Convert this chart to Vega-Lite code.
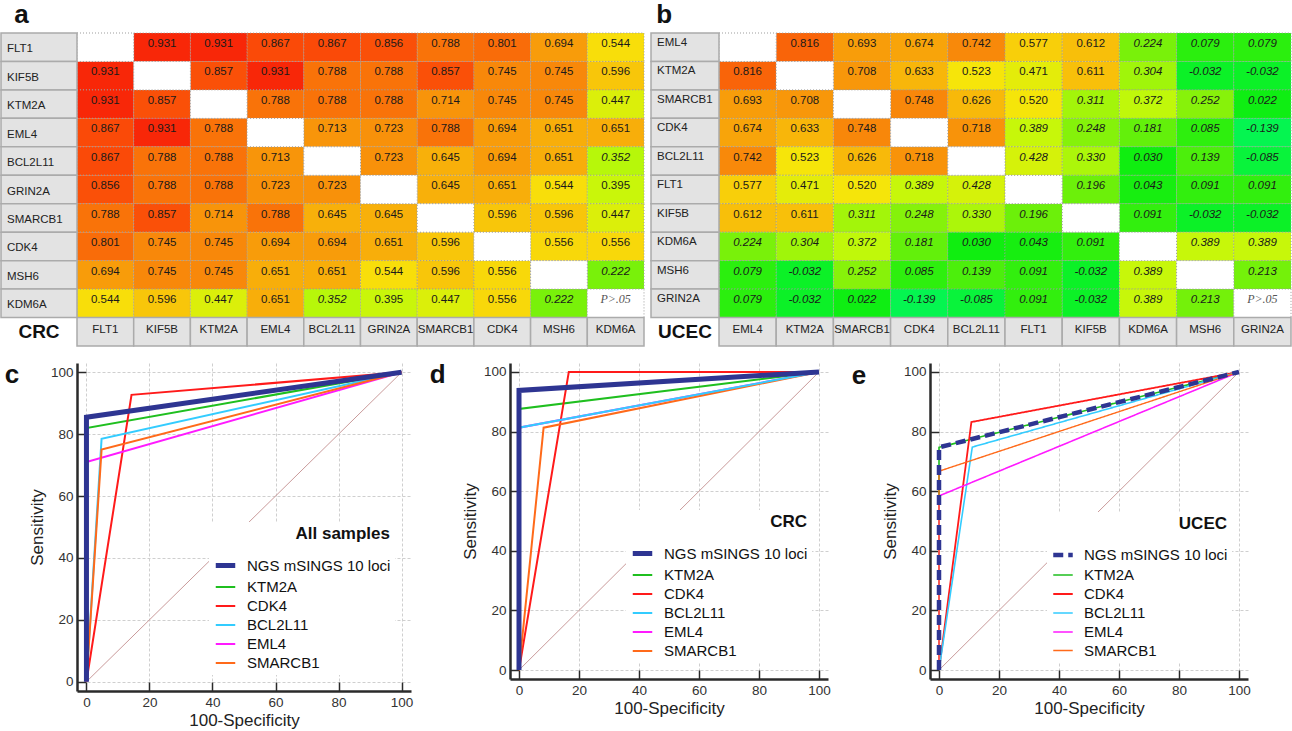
{
"$schema": "https://vega.github.io/schema/vega-lite/v6.json",
"padding": {"left": 0, "top": 2, "right": 0, "bottom": 0},
"resolve": {"scale": {"color": "independent", "strokeWidth": "independent", "strokeDash": "independent"}, "legend": {"color": "independent", "strokeWidth": "independent", "strokeDash": "independent"}},
"spacing": 14,
"datasets": {
"gA": [{"g":"FLT1"},{"g":"KIF5B"},{"g":"KTM2A"},{"g":"EML4"},{"g":"BCL2L11"},{"g":"GRIN2A"},{"g":"SMARCB1"},{"g":"CDK4"},{"g":"MSH6"},{"g":"KDM6A"}],
"gB": [{"g":"EML4"},{"g":"KTM2A"},{"g":"SMARCB1"},{"g":"CDK4"},{"g":"BCL2L11"},{"g":"FLT1"},{"g":"KIF5B"},{"g":"KDM6A"},{"g":"MSH6"},{"g":"GRIN2A"}],
"crc": [
{"r":"FLT1","c":"KIF5B","v":0.931},{"r":"FLT1","c":"KTM2A","v":0.931},{"r":"FLT1","c":"EML4","v":0.867},{"r":"FLT1","c":"BCL2L11","v":0.867},{"r":"FLT1","c":"GRIN2A","v":0.856},{"r":"FLT1","c":"SMARCB1","v":0.788},{"r":"FLT1","c":"CDK4","v":0.801},{"r":"FLT1","c":"MSH6","v":0.694},{"r":"FLT1","c":"KDM6A","v":0.544},
{"r":"KIF5B","c":"FLT1","v":0.931},{"r":"KIF5B","c":"KTM2A","v":0.857},{"r":"KIF5B","c":"EML4","v":0.931},{"r":"KIF5B","c":"BCL2L11","v":0.788},{"r":"KIF5B","c":"GRIN2A","v":0.788},{"r":"KIF5B","c":"SMARCB1","v":0.857},{"r":"KIF5B","c":"CDK4","v":0.745},{"r":"KIF5B","c":"MSH6","v":0.745},{"r":"KIF5B","c":"KDM6A","v":0.596},
{"r":"KTM2A","c":"FLT1","v":0.931},{"r":"KTM2A","c":"KIF5B","v":0.857},{"r":"KTM2A","c":"EML4","v":0.788},{"r":"KTM2A","c":"BCL2L11","v":0.788},{"r":"KTM2A","c":"GRIN2A","v":0.788},{"r":"KTM2A","c":"SMARCB1","v":0.714},{"r":"KTM2A","c":"CDK4","v":0.745},{"r":"KTM2A","c":"MSH6","v":0.745},{"r":"KTM2A","c":"KDM6A","v":0.447},
{"r":"EML4","c":"FLT1","v":0.867},{"r":"EML4","c":"KIF5B","v":0.931},{"r":"EML4","c":"KTM2A","v":0.788},{"r":"EML4","c":"BCL2L11","v":0.713},{"r":"EML4","c":"GRIN2A","v":0.723},{"r":"EML4","c":"SMARCB1","v":0.788},{"r":"EML4","c":"CDK4","v":0.694},{"r":"EML4","c":"MSH6","v":0.651},{"r":"EML4","c":"KDM6A","v":0.651},
{"r":"BCL2L11","c":"FLT1","v":0.867},{"r":"BCL2L11","c":"KIF5B","v":0.788},{"r":"BCL2L11","c":"KTM2A","v":0.788},{"r":"BCL2L11","c":"EML4","v":0.713},{"r":"BCL2L11","c":"GRIN2A","v":0.723},{"r":"BCL2L11","c":"SMARCB1","v":0.645},{"r":"BCL2L11","c":"CDK4","v":0.694},{"r":"BCL2L11","c":"MSH6","v":0.651},{"r":"BCL2L11","c":"KDM6A","v":0.352},
{"r":"GRIN2A","c":"FLT1","v":0.856},{"r":"GRIN2A","c":"KIF5B","v":0.788},{"r":"GRIN2A","c":"KTM2A","v":0.788},{"r":"GRIN2A","c":"EML4","v":0.723},{"r":"GRIN2A","c":"BCL2L11","v":0.723},{"r":"GRIN2A","c":"SMARCB1","v":0.645},{"r":"GRIN2A","c":"CDK4","v":0.651},{"r":"GRIN2A","c":"MSH6","v":0.544},{"r":"GRIN2A","c":"KDM6A","v":0.395},
{"r":"SMARCB1","c":"FLT1","v":0.788},{"r":"SMARCB1","c":"KIF5B","v":0.857},{"r":"SMARCB1","c":"KTM2A","v":0.714},{"r":"SMARCB1","c":"EML4","v":0.788},{"r":"SMARCB1","c":"BCL2L11","v":0.645},{"r":"SMARCB1","c":"GRIN2A","v":0.645},{"r":"SMARCB1","c":"CDK4","v":0.596},{"r":"SMARCB1","c":"MSH6","v":0.596},{"r":"SMARCB1","c":"KDM6A","v":0.447},
{"r":"CDK4","c":"FLT1","v":0.801},{"r":"CDK4","c":"KIF5B","v":0.745},{"r":"CDK4","c":"KTM2A","v":0.745},{"r":"CDK4","c":"EML4","v":0.694},{"r":"CDK4","c":"BCL2L11","v":0.694},{"r":"CDK4","c":"GRIN2A","v":0.651},{"r":"CDK4","c":"SMARCB1","v":0.596},{"r":"CDK4","c":"MSH6","v":0.556},{"r":"CDK4","c":"KDM6A","v":0.556},
{"r":"MSH6","c":"FLT1","v":0.694},{"r":"MSH6","c":"KIF5B","v":0.745},{"r":"MSH6","c":"KTM2A","v":0.745},{"r":"MSH6","c":"EML4","v":0.651},{"r":"MSH6","c":"BCL2L11","v":0.651},{"r":"MSH6","c":"GRIN2A","v":0.544},{"r":"MSH6","c":"SMARCB1","v":0.596},{"r":"MSH6","c":"CDK4","v":0.556},{"r":"MSH6","c":"KDM6A","v":0.222},
{"r":"KDM6A","c":"FLT1","v":0.544},{"r":"KDM6A","c":"KIF5B","v":0.596},{"r":"KDM6A","c":"KTM2A","v":0.447},{"r":"KDM6A","c":"EML4","v":0.651},{"r":"KDM6A","c":"BCL2L11","v":0.352},{"r":"KDM6A","c":"GRIN2A","v":0.395},{"r":"KDM6A","c":"SMARCB1","v":0.447},{"r":"KDM6A","c":"CDK4","v":0.556},{"r":"KDM6A","c":"MSH6","v":0.222}
],
"ucec": [
{"r":"EML4","c":"KTM2A","v":0.816},{"r":"EML4","c":"SMARCB1","v":0.693},{"r":"EML4","c":"CDK4","v":0.674},{"r":"EML4","c":"BCL2L11","v":0.742},{"r":"EML4","c":"FLT1","v":0.577},{"r":"EML4","c":"KIF5B","v":0.612},{"r":"EML4","c":"KDM6A","v":0.224},{"r":"EML4","c":"MSH6","v":0.079},{"r":"EML4","c":"GRIN2A","v":0.079},
{"r":"KTM2A","c":"EML4","v":0.816},{"r":"KTM2A","c":"SMARCB1","v":0.708},{"r":"KTM2A","c":"CDK4","v":0.633},{"r":"KTM2A","c":"BCL2L11","v":0.523},{"r":"KTM2A","c":"FLT1","v":0.471},{"r":"KTM2A","c":"KIF5B","v":0.611},{"r":"KTM2A","c":"KDM6A","v":0.304},{"r":"KTM2A","c":"MSH6","v":-0.032},{"r":"KTM2A","c":"GRIN2A","v":-0.032},
{"r":"SMARCB1","c":"EML4","v":0.693},{"r":"SMARCB1","c":"KTM2A","v":0.708},{"r":"SMARCB1","c":"CDK4","v":0.748},{"r":"SMARCB1","c":"BCL2L11","v":0.626},{"r":"SMARCB1","c":"FLT1","v":0.520},{"r":"SMARCB1","c":"KIF5B","v":0.311},{"r":"SMARCB1","c":"KDM6A","v":0.372},{"r":"SMARCB1","c":"MSH6","v":0.252},{"r":"SMARCB1","c":"GRIN2A","v":0.022},
{"r":"CDK4","c":"EML4","v":0.674},{"r":"CDK4","c":"KTM2A","v":0.633},{"r":"CDK4","c":"SMARCB1","v":0.748},{"r":"CDK4","c":"BCL2L11","v":0.718},{"r":"CDK4","c":"FLT1","v":0.389},{"r":"CDK4","c":"KIF5B","v":0.248},{"r":"CDK4","c":"KDM6A","v":0.181},{"r":"CDK4","c":"MSH6","v":0.085},{"r":"CDK4","c":"GRIN2A","v":-0.139},
{"r":"BCL2L11","c":"EML4","v":0.742},{"r":"BCL2L11","c":"KTM2A","v":0.523},{"r":"BCL2L11","c":"SMARCB1","v":0.626},{"r":"BCL2L11","c":"CDK4","v":0.718},{"r":"BCL2L11","c":"FLT1","v":0.428},{"r":"BCL2L11","c":"KIF5B","v":0.330},{"r":"BCL2L11","c":"KDM6A","v":0.030},{"r":"BCL2L11","c":"MSH6","v":0.139},{"r":"BCL2L11","c":"GRIN2A","v":-0.085},
{"r":"FLT1","c":"EML4","v":0.577},{"r":"FLT1","c":"KTM2A","v":0.471},{"r":"FLT1","c":"SMARCB1","v":0.520},{"r":"FLT1","c":"CDK4","v":0.389},{"r":"FLT1","c":"BCL2L11","v":0.428},{"r":"FLT1","c":"KIF5B","v":0.196},{"r":"FLT1","c":"KDM6A","v":0.043},{"r":"FLT1","c":"MSH6","v":0.091},{"r":"FLT1","c":"GRIN2A","v":0.091},
{"r":"KIF5B","c":"EML4","v":0.612},{"r":"KIF5B","c":"KTM2A","v":0.611},{"r":"KIF5B","c":"SMARCB1","v":0.311},{"r":"KIF5B","c":"CDK4","v":0.248},{"r":"KIF5B","c":"BCL2L11","v":0.330},{"r":"KIF5B","c":"FLT1","v":0.196},{"r":"KIF5B","c":"KDM6A","v":0.091},{"r":"KIF5B","c":"MSH6","v":-0.032},{"r":"KIF5B","c":"GRIN2A","v":-0.032},
{"r":"KDM6A","c":"EML4","v":0.224},{"r":"KDM6A","c":"KTM2A","v":0.304},{"r":"KDM6A","c":"SMARCB1","v":0.372},{"r":"KDM6A","c":"CDK4","v":0.181},{"r":"KDM6A","c":"BCL2L11","v":0.030},{"r":"KDM6A","c":"FLT1","v":0.043},{"r":"KDM6A","c":"KIF5B","v":0.091},{"r":"KDM6A","c":"MSH6","v":0.389},{"r":"KDM6A","c":"GRIN2A","v":0.389},
{"r":"MSH6","c":"EML4","v":0.079},{"r":"MSH6","c":"KTM2A","v":-0.032},{"r":"MSH6","c":"SMARCB1","v":0.252},{"r":"MSH6","c":"CDK4","v":0.085},{"r":"MSH6","c":"BCL2L11","v":0.139},{"r":"MSH6","c":"FLT1","v":0.091},{"r":"MSH6","c":"KIF5B","v":-0.032},{"r":"MSH6","c":"KDM6A","v":0.389},{"r":"MSH6","c":"GRIN2A","v":0.213},
{"r":"GRIN2A","c":"EML4","v":0.079},{"r":"GRIN2A","c":"KTM2A","v":-0.032},{"r":"GRIN2A","c":"SMARCB1","v":0.022},{"r":"GRIN2A","c":"CDK4","v":-0.139},{"r":"GRIN2A","c":"BCL2L11","v":-0.085},{"r":"GRIN2A","c":"FLT1","v":0.091},{"r":"GRIN2A","c":"KIF5B","v":-0.032},{"r":"GRIN2A","c":"KDM6A","v":0.389},{"r":"GRIN2A","c":"MSH6","v":0.213}
],
"diag": [{"x":0,"y":0},{"x":100,"y":100}],
"rocC": [
{"s":"KTM2A","i":0,"x":0,"y":0},{"s":"KTM2A","i":1,"x":0,"y":82},{"s":"KTM2A","i":2,"x":100,"y":100},
{"s":"CDK4","i":0,"x":0,"y":0},{"s":"CDK4","i":1,"x":14.3,"y":92.7},{"s":"CDK4","i":2,"x":100,"y":100},
{"s":"BCL2L11","i":0,"x":0,"y":0},{"s":"BCL2L11","i":1,"x":4.8,"y":78.5},{"s":"BCL2L11","i":2,"x":100,"y":100},
{"s":"EML4","i":0,"x":0,"y":0},{"s":"EML4","i":1,"x":0,"y":71},{"s":"EML4","i":2,"x":100,"y":100},
{"s":"SMARCB1","i":0,"x":0,"y":0},{"s":"SMARCB1","i":1,"x":4.8,"y":75},{"s":"SMARCB1","i":2,"x":100,"y":100},
{"s":"NGS mSINGS 10 loci","i":0,"x":0,"y":0},{"s":"NGS mSINGS 10 loci","i":1,"x":0,"y":85.5},{"s":"NGS mSINGS 10 loci","i":2,"x":100,"y":100}
],
"rocD": [
{"s":"KTM2A","i":0,"x":0,"y":0},{"s":"KTM2A","i":1,"x":0,"y":87.6},{"s":"KTM2A","i":2,"x":100,"y":100},
{"s":"CDK4","i":0,"x":0,"y":0},{"s":"CDK4","i":1,"x":16.6,"y":100},{"s":"CDK4","i":2,"x":100,"y":100},
{"s":"EML4","i":0,"x":0,"y":0},{"s":"EML4","i":1,"x":0,"y":81.3},{"s":"EML4","i":2,"x":100,"y":100},
{"s":"SMARCB1","i":0,"x":0,"y":0},{"s":"SMARCB1","i":1,"x":8.2,"y":81.3},{"s":"SMARCB1","i":2,"x":100,"y":100},
{"s":"BCL2L11","i":0,"x":0,"y":0},{"s":"BCL2L11","i":1,"x":0,"y":81.3},{"s":"BCL2L11","i":2,"x":100,"y":100},
{"s":"NGS mSINGS 10 loci","i":0,"x":0,"y":0},{"s":"NGS mSINGS 10 loci","i":1,"x":0,"y":93.8},{"s":"NGS mSINGS 10 loci","i":2,"x":100,"y":100}
],
"rocE": [
{"s":"KTM2A","i":0,"x":0,"y":0},{"s":"KTM2A","i":1,"x":0,"y":74.7},{"s":"KTM2A","i":2,"x":100,"y":100},
{"s":"CDK4","i":0,"x":0,"y":0},{"s":"CDK4","i":1,"x":10.8,"y":83.2},{"s":"CDK4","i":2,"x":100,"y":100},
{"s":"BCL2L11","i":0,"x":0,"y":0},{"s":"BCL2L11","i":1,"x":11.1,"y":74.8},{"s":"BCL2L11","i":2,"x":100,"y":100},
{"s":"EML4","i":0,"x":0,"y":0},{"s":"EML4","i":1,"x":0,"y":58.4},{"s":"EML4","i":2,"x":100,"y":100},
{"s":"SMARCB1","i":0,"x":0,"y":0},{"s":"SMARCB1","i":1,"x":0,"y":66.7},{"s":"SMARCB1","i":2,"x":100,"y":100},
{"s":"NGS mSINGS 10 loci","i":0,"x":0,"y":0},{"s":"NGS mSINGS 10 loci","i":1,"x":0,"y":74.7},{"s":"NGS mSINGS 10 loci","i":2,"x":100,"y":100}
]
},
"vconcat": [
{
"spacing": 5,
"resolve": {"scale": {"color": "independent"}, "legend": {"color": "independent"}},
"hconcat": [
{
"width": 567, "height": 313,
"title": {"text": "a", "anchor": "start", "fontSize": 26, "fontWeight": "bold", "dx": 14, "offset": 4, "color": "#111"},
"resolve": {"scale": {"x": "independent"}},
"layer": [
{
"layer": [
{"data": {"name": "crc"},
 "mark": {"type": "rect", "stroke": "#9d9d9d", "strokeDash": [1, 2], "strokeWidth": 1},
 "encoding": {
  "x": {"field": "c", "type": "nominal", "scale": {"domain": ["FLT1","KIF5B","KTM2A","EML4","BCL2L11","GRIN2A","SMARCB1","CDK4","MSH6","KDM6A"], "paddingInner": 0, "paddingOuter": 0}, "axis": null},
  "y": {"field": "r", "type": "nominal", "scale": {"domain": ["FLT1","KIF5B","KTM2A","EML4","BCL2L11","GRIN2A","SMARCB1","CDK4","MSH6","KDM6A","ftr"], "paddingInner": 0, "paddingOuter": 0}, "axis": null},
  "color": {"field": "v", "type": "quantitative", "legend": null, "scale": {"domain": [-0.14, 0.03, 0.2, 0.38, 0.53, 0.65, 0.75, 0.86, 0.93], "range": ["#05f550", "#10ee10", "#6ef00a", "#c4f80a", "#f8e40a", "#f8ae0a", "#f8860a", "#fa4e08", "#f82808"], "interpolate": "rgb"}}}},
{"data": {"name": "gA"},
 "mark": {"type": "rect", "fill": "white", "stroke": "#9d9d9d", "strokeDash": [1, 2], "strokeWidth": 1},
 "encoding": {"x": {"field": "g", "type": "nominal"}, "y": {"field": "g", "type": "nominal"}}},
{"data": {"name": "gA"},
 "mark": {"type": "rect", "fill": "#e3e3e3", "stroke": "#ababab", "strokeWidth": 1.5},
 "encoding": {"x": {"field": "g", "type": "nominal"}, "y": {"datum": "ftr", "type": "nominal"}}},
{"data": {"name": "gA"},
 "mark": {"type": "text", "baseline": "top", "dy": 6, "fontSize": 11.5, "fill": "#222"},
 "encoding": {"x": {"field": "g", "type": "nominal"}, "y": {"datum": "ftr", "type": "nominal", "bandPosition": 0}, "text": {"field": "g"}}},
{"data": {"name": "crc"}, "transform": [{"filter": "datum.v >= 0.36"}],
 "mark": {"type": "text", "baseline": "top", "dy": 5, "fontSize": 11.5, "fill": "#1a1a1a", "text": {"expr": "replace(format(datum.v, '.3f'), '\u2212', '-')"}},
 "encoding": {"x": {"field": "c", "type": "nominal"}, "y": {"field": "r", "type": "nominal", "bandPosition": 0}}},
{"data": {"name": "crc"}, "transform": [{"filter": "datum.v < 0.36"}],
 "mark": {"type": "text", "baseline": "top", "dy": 5, "fontSize": 11.5, "fontStyle": "italic", "fill": "#1a1a1a", "text": {"expr": "replace(format(datum.v, '.3f'), '\u2212', '-')"}},
 "encoding": {"x": {"field": "c", "type": "nominal"}, "y": {"field": "r", "type": "nominal", "bandPosition": 0}}},
{"data": {"name": "gA"}, "transform": [{"filter": "datum.g === 'KDM6A'"}],
 "mark": {"type": "text", "baseline": "top", "dy": 5, "font": "Liberation Serif", "fontStyle": "italic", "fontSize": 12, "fill": "#555", "text": "P>.05"},
 "encoding": {"x": {"field": "g", "type": "nominal"}, "y": {"field": "g", "type": "nominal", "bandPosition": 0}}}
]
},
{
"data": {"name": "gA"},
"layer": [
{"mark": {"type": "rect", "fill": "#e3e3e3", "stroke": "#ababab", "strokeWidth": 1.5},
 "encoding": {
  "x": {"datum": "lab", "type": "nominal", "scale": {"domain": ["lab"], "range": [-76, 0], "paddingInner": 0, "paddingOuter": 0}, "axis": null},
  "y": {"field": "g", "type": "nominal"}}},
{"mark": {"type": "text", "align": "left", "baseline": "middle", "dx": 6, "dy": 2, "fontSize": 11.5, "fill": "#222"},
 "encoding": {
  "x": {"datum": "lab", "type": "nominal", "bandPosition": 0},
  "y": {"field": "g", "type": "nominal"},
  "text": {"field": "g"}}},
{"transform": [{"filter": "datum.g === 'FLT1'"}],
 "mark": {"type": "text", "fontSize": 19, "fontWeight": "bold", "fill": "#111", "text": "CRC"},
 "encoding": {
  "x": {"datum": "lab", "type": "nominal"},
  "y": {"datum": "ftr", "type": "nominal"}}}
]
}
]
},
{
"width": 572, "height": 313,
"title": {"text": "b", "anchor": "start", "fontSize": 26, "fontWeight": "bold", "dx": 6, "offset": 4, "color": "#111"},
"resolve": {"scale": {"x": "independent"}},
"layer": [
{
"layer": [
{"data": {"name": "ucec"},
 "mark": {"type": "rect", "stroke": "#9d9d9d", "strokeDash": [1, 2], "strokeWidth": 1},
 "encoding": {
  "x": {"field": "c", "type": "nominal", "scale": {"domain": ["EML4","KTM2A","SMARCB1","CDK4","BCL2L11","FLT1","KIF5B","KDM6A","MSH6","GRIN2A"], "paddingInner": 0, "paddingOuter": 0}, "axis": null},
  "y": {"field": "r", "type": "nominal", "scale": {"domain": ["EML4","KTM2A","SMARCB1","CDK4","BCL2L11","FLT1","KIF5B","KDM6A","MSH6","GRIN2A","ftr"], "paddingInner": 0, "paddingOuter": 0}, "axis": null},
  "color": {"field": "v", "type": "quantitative", "legend": null, "scale": {"domain": [-0.14, 0.03, 0.2, 0.38, 0.53, 0.65, 0.75, 0.86, 0.93], "range": ["#05f550", "#10ee10", "#6ef00a", "#c4f80a", "#f8e40a", "#f8ae0a", "#f8860a", "#fa4e08", "#f82808"], "interpolate": "rgb"}}}},
{"data": {"name": "gB"},
 "mark": {"type": "rect", "fill": "white", "stroke": "#9d9d9d", "strokeDash": [1, 2], "strokeWidth": 1},
 "encoding": {"x": {"field": "g", "type": "nominal"}, "y": {"field": "g", "type": "nominal"}}},
{"data": {"name": "gB"},
 "mark": {"type": "rect", "fill": "#e3e3e3", "stroke": "#ababab", "strokeWidth": 1.5},
 "encoding": {"x": {"field": "g", "type": "nominal"}, "y": {"datum": "ftr", "type": "nominal"}}},
{"data": {"name": "gB"},
 "mark": {"type": "text", "baseline": "top", "dy": 6, "fontSize": 11.5, "fill": "#222"},
 "encoding": {"x": {"field": "g", "type": "nominal"}, "y": {"datum": "ftr", "type": "nominal", "bandPosition": 0}, "text": {"field": "g"}}},
{"data": {"name": "ucec"}, "transform": [{"filter": "datum.v >= 0.45"}],
 "mark": {"type": "text", "baseline": "top", "dy": 5, "fontSize": 11.5, "fill": "#1a1a1a", "text": {"expr": "replace(format(datum.v, '.3f'), '\u2212', '-')"}},
 "encoding": {"x": {"field": "c", "type": "nominal"}, "y": {"field": "r", "type": "nominal", "bandPosition": 0}}},
{"data": {"name": "ucec"}, "transform": [{"filter": "datum.v < 0.45"}],
 "mark": {"type": "text", "baseline": "top", "dy": 5, "fontSize": 11.5, "fontStyle": "italic", "fill": "#1a1a1a", "text": {"expr": "replace(format(datum.v, '.3f'), '\u2212', '-')"}},
 "encoding": {"x": {"field": "c", "type": "nominal"}, "y": {"field": "r", "type": "nominal", "bandPosition": 0}}},
{"data": {"name": "gB"}, "transform": [{"filter": "datum.g === 'GRIN2A'"}],
 "mark": {"type": "text", "baseline": "top", "dy": 5, "font": "Liberation Serif", "fontStyle": "italic", "fontSize": 12, "fill": "#555", "text": "P>.05"},
 "encoding": {"x": {"field": "g", "type": "nominal"}, "y": {"field": "g", "type": "nominal", "bandPosition": 0}}}
]
},
{
"data": {"name": "gB"},
"layer": [
{"mark": {"type": "rect", "fill": "#e3e3e3", "stroke": "#ababab", "strokeWidth": 1.5},
 "encoding": {
  "x": {"datum": "lab", "type": "nominal", "scale": {"domain": ["lab"], "range": [-68, 0], "paddingInner": 0, "paddingOuter": 0}, "axis": null},
  "y": {"field": "g", "type": "nominal"}}},
{"mark": {"type": "text", "align": "left", "baseline": "top", "dx": 6, "dy": 4, "fontSize": 11.5, "fill": "#222"},
 "encoding": {
  "x": {"datum": "lab", "type": "nominal", "bandPosition": 0},
  "y": {"field": "g", "type": "nominal", "bandPosition": 0},
  "text": {"field": "g"}}},
{"transform": [{"filter": "datum.g === 'EML4'"}],
 "mark": {"type": "text", "fontSize": 19, "fontWeight": "bold", "fill": "#111", "text": "UCEC"},
 "encoding": {
  "x": {"datum": "lab", "type": "nominal"},
  "y": {"datum": "ftr", "type": "nominal"}}}
]
}
]
}
]
},
{
"spacing": 16,
"resolve": {"scale": {"color": "independent", "strokeWidth": "independent", "strokeDash": "independent"}, "legend": {"color": "independent", "strokeWidth": "independent", "strokeDash": "independent"}},
"hconcat": [
{
"width": 334, "height": 328,
"title": {"text": "c", "orient": "left", "anchor": "end", "angle": 0, "fontSize": 26, "fontWeight": "bold", "offset": 2, "baseline": "top", "align": "center", "color": "#111"},
"layer": [
{"data": {"name": "diag"},
 "mark": {"type": "line", "stroke": "#c99a9a", "strokeWidth": 1},
 "encoding": {
  "x": {"field": "x", "type": "quantitative", "scale": {"domain": [-3, 103], "nice": false, "zero": false},
   "axis": {"title": "100-Specificity", "values": [0,5,10,15,20,25,30,35,40,45,50,55,60,65,70,75,80,85,90,95,100], "labelExpr": "datum.value % 20 === 0 ? datum.label : ''", "tickSize": {"condition": {"test": "datum.value % 20 === 0", "value": -9}, "value": -5}, "gridOpacity": {"condition": {"test": "datum.value % 20 === 0", "value": 1}, "value": 0}, "labelPadding": 13}},
  "y": {"field": "y", "type": "quantitative", "scale": {"domain": [-3, 103], "nice": false, "zero": false},
   "axis": {"title": "Sensitivity", "values": [0,5,10,15,20,25,30,35,40,45,50,55,60,65,70,75,80,85,90,95,100], "labelExpr": "datum.value % 20 === 0 ? datum.label : ''", "tickSize": {"condition": {"test": "datum.value % 20 === 0", "value": -9}, "value": -5}, "gridOpacity": {"condition": {"test": "datum.value % 20 === 0", "value": 1}, "value": 0}, "labelPadding": 13}}}},
{"data": {"name": "rocC"},
 "mark": {"type": "line"},
 "encoding": {
  "x": {"field": "x", "type": "quantitative"},
  "y": {"field": "y", "type": "quantitative"},
  "order": {"field": "i"},
  "color": {"field": "s", "type": "nominal", "scale": {"domain": ["NGS mSINGS 10 loci","KTM2A","CDK4","BCL2L11","EML4","SMARCB1"], "range": ["#2e3592","#1fbf1f","#ff1a1a","#33ccff","#ff1aff","#ff6a1a"]}, "legend": {"title": "All samples"}},
  "strokeWidth": {"field": "s", "type": "nominal", "scale": {"type": "ordinal", "domain": ["NGS mSINGS 10 loci","KTM2A","CDK4","BCL2L11","EML4","SMARCB1"], "range": [5, 2, 2, 2, 2, 2]}, "legend": {"title": "All samples"}}}}
]
},
{
"spacing": 20,
"resolve": {"scale": {"color": "independent", "strokeWidth": "independent", "strokeDash": "independent"}, "legend": {"color": "independent", "strokeWidth": "independent", "strokeDash": "independent"}},
"hconcat": [
{
"width": 318, "height": 316,
"title": {"text": "d", "orient": "left", "anchor": "end", "angle": 0, "fontSize": 26, "fontWeight": "bold", "offset": 8, "baseline": "top", "align": "center", "color": "#111"},
"layer": [
{"data": {"name": "diag"},
 "mark": {"type": "line", "stroke": "#c99a9a", "strokeWidth": 1},
 "encoding": {
  "x": {"field": "x", "type": "quantitative", "scale": {"domain": [-3, 103], "nice": false, "zero": false},
   "axis": {"title": "100-Specificity", "values": [0,5,10,15,20,25,30,35,40,45,50,55,60,65,70,75,80,85,90,95,100], "labelExpr": "datum.value % 20 === 0 ? datum.label : ''", "tickSize": {"condition": {"test": "datum.value % 20 === 0", "value": -9}, "value": -5}, "gridOpacity": {"condition": {"test": "datum.value % 20 === 0", "value": 1}, "value": 0}, "labelPadding": 13}},
  "y": {"field": "y", "type": "quantitative", "scale": {"domain": [-3, 103], "nice": false, "zero": false},
   "axis": {"title": "Sensitivity", "values": [0,5,10,15,20,25,30,35,40,45,50,55,60,65,70,75,80,85,90,95,100], "labelExpr": "datum.value % 20 === 0 ? datum.label : ''", "tickSize": {"condition": {"test": "datum.value % 20 === 0", "value": -9}, "value": -5}, "gridOpacity": {"condition": {"test": "datum.value % 20 === 0", "value": 1}, "value": 0}, "labelPadding": 13}}}},
{"data": {"name": "rocD"},
 "mark": {"type": "line"},
 "encoding": {
  "x": {"field": "x", "type": "quantitative"},
  "y": {"field": "y", "type": "quantitative"},
  "order": {"field": "i"},
  "color": {"field": "s", "type": "nominal", "scale": {"domain": ["NGS mSINGS 10 loci","KTM2A","CDK4","BCL2L11","EML4","SMARCB1"], "range": ["#2e3592","#1fbf1f","#ff1a1a","#33ccff","#ff1aff","#ff6a1a"]}, "legend": {"title": "CRC"}},
  "strokeWidth": {"field": "s", "type": "nominal", "scale": {"type": "ordinal", "domain": ["NGS mSINGS 10 loci","KTM2A","CDK4","BCL2L11","EML4","SMARCB1"], "range": [5, 2, 2, 2, 2, 2]}, "legend": {"title": "CRC"}}}}
]
},
{
"width": 318, "height": 316,
"title": {"text": "e", "orient": "left", "anchor": "end", "angle": 0, "fontSize": 26, "fontWeight": "bold", "offset": 8, "baseline": "top", "align": "center", "color": "#111"},
"layer": [
{"data": {"name": "diag"},
 "mark": {"type": "line", "stroke": "#c99a9a", "strokeWidth": 1},
 "encoding": {
  "x": {"field": "x", "type": "quantitative", "scale": {"domain": [-3, 103], "nice": false, "zero": false},
   "axis": {"title": "100-Specificity", "values": [0,5,10,15,20,25,30,35,40,45,50,55,60,65,70,75,80,85,90,95,100], "labelExpr": "datum.value % 20 === 0 ? datum.label : ''", "tickSize": {"condition": {"test": "datum.value % 20 === 0", "value": -9}, "value": -5}, "gridOpacity": {"condition": {"test": "datum.value % 20 === 0", "value": 1}, "value": 0}, "labelPadding": 13}},
  "y": {"field": "y", "type": "quantitative", "scale": {"domain": [-3, 103], "nice": false, "zero": false},
   "axis": {"title": "Sensitivity", "values": [0,5,10,15,20,25,30,35,40,45,50,55,60,65,70,75,80,85,90,95,100], "labelExpr": "datum.value % 20 === 0 ? datum.label : ''", "tickSize": {"condition": {"test": "datum.value % 20 === 0", "value": -9}, "value": -5}, "gridOpacity": {"condition": {"test": "datum.value % 20 === 0", "value": 1}, "value": 0}, "labelPadding": 13}}}},
{"data": {"name": "rocE"},
 "mark": {"type": "line"},
 "encoding": {
  "x": {"field": "x", "type": "quantitative"},
  "y": {"field": "y", "type": "quantitative"},
  "order": {"field": "i"},
  "color": {"field": "s", "type": "nominal", "scale": {"domain": ["NGS mSINGS 10 loci","KTM2A","CDK4","BCL2L11","EML4","SMARCB1"], "range": ["#2e3592","#1fbf1f","#ff1a1a","#33ccff","#ff1aff","#ff6a1a"]}, "legend": {"title": "UCEC"}},
  "strokeWidth": {"field": "s", "type": "nominal", "scale": {"type": "ordinal", "domain": ["NGS mSINGS 10 loci","KTM2A","CDK4","BCL2L11","EML4","SMARCB1"], "range": [4.5, 1.6, 1.8, 1.6, 1.6, 1.4]}, "legend": {"title": "UCEC"}},
  "strokeDash": {"field": "s", "type": "nominal", "scale": {"domain": ["NGS mSINGS 10 loci","KTM2A","CDK4","BCL2L11","EML4","SMARCB1"], "range": [[10, 5], [1, 0], [1, 0], [1, 0], [1, 0], [1, 0]]}, "legend": {"title": "UCEC"}}}}
]
}
]
}
]
}
],
"config": {
 "font": "Liberation Sans",
 "view": {"stroke": null},
 "axis": {"domainColor": "#2a2a2a", "domainWidth": 2.5, "tickColor": "#2a2a2a", "tickWidth": 1.5, "labelFontSize": 13.5, "labelColor": "#333", "titleFontSize": 17, "titleFontWeight": "normal", "titleColor": "#222", "gridColor": "#cfcfcf", "gridDash": [3, 2], "labelFlush": false, "titlePadding": 4},
 "legend": {"orient": "bottom-right", "offset": 16, "symbolType": "stroke", "symbolSize": 380, "labelFontSize": 15, "labelColor": "#111", "titleFontSize": 17, "titleFontWeight": "bold", "titleColor": "#111", "titleAnchor": "end", "titleAlign": "right", "titlePadding": 10, "rowPadding": 0, "fillColor": "white", "padding": 4, "labelOffset": 9}
}
}
